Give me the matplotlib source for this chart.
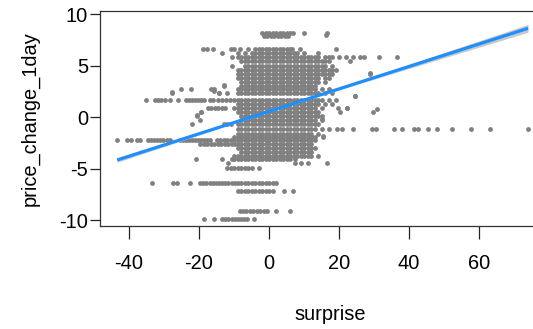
import matplotlib
matplotlib.use("Agg")
import matplotlib.pyplot as plt
import numpy as np

# ---------------- data ----------------
# scatter rows: (price_change_1day, [surprise values])
core_a = [-9, -8, -7, -6, -5, -4, -3, -2, -1, 0, 1, 2, 3, 4, 5, 6, 7, 8, 9, 10, 11, 12, 13]
rows = [
    (8.2, [-2, -1, 0, 1, 2, 3, 4, 5, 6, 6.9, 10, 16.6]),
    (7.9, [-1.5, -0.5, 0.5, 1.5, 2.5, 3.5, 4.5, 5.5]),
    (6.6, [-18.9, -17.8, -16, -10.8, -10, -8.3, -6, -4, -3, -2, -1, 0, 1, 2, 3, 4, 5, 6, 6.6, 8.9, 19]),
    (6.2, [-13.4, -9, -7, -5, -4, -3, -2, -1, 0, 1, 2, 3, 4, 5, 6, 7, 8, 10, 13.9]),
    (5.8, [-10.6, -9, -8, -7, -6, -5, -4, -3, -2, -1, 0, 1, 2, 3, 4, 5, 6, 7, 8, 9, 10, 11, 12, 13, 14,
           16, 17, 18, 20, 22, 24, 26, 27, 31.4, 36.6]),
    (5.4, [-8, -7, -6, -5, -4, -3, -2, -1, 0, 1, 2, 3, 4, 5, 6, 7, 8, 9, 10, 11, 12, 13, 14, 15, 16, 17, 23]),
    (5.0, [-10.6, -7, -6, -5, -4, -3, -2, -1, 0, 1, 2, 3, 4, 5, 6, 7, 8, 9, 10, 11, 12, 13, 14, 15, 16, 18]),
    (4.6, [-9, -8, -7, -6, -5, -4, -3, -2, -1, 0, 1, 2, 3, 4, 5, 6, 7, 8, 9, 10, 11, 12, 13, 14, 15, 16, 17, 18, 19]),
    (4.2, [-9, -8, -7, -6, -5, -4, -3, -2, -1, 0, 1, 2, 3, 4, 5, 6, 7, 8, 9, 10, 11, 12, 13, 14, 15, 16, 17, 18, 28.9]),
    (3.8, [-9, -8, -7, -6, -5, -4, -3, -2, -1, 0, 1, 2, 3, 4, 5, 6, 7, 8, 9, 10, 11, 12, 13, 14, 16, 17]),
    (3.4, [-8, -7, -6, -5, -4, -3, -2, -1, 0, 1, 2, 3, 4, 5, 6, 7, 8, 9, 10, 11, 12, 13, 14, 16]),
    (3.0, [-12.9, -8, -7, -6, -5, -4, -3, -2, -1, 0, 1, 2, 3, 4, 5, 6, 7, 8, 9, 10, 11, 12, 13]),
    (2.7, [-25.1, -22.3, -16.6, -15.7] + core_a + [15, 17]),
    (2.3, [-27.7, -14.3, -12] + core_a + [14, 16, 18]),
    (2.0, [24.6]),
    (1.7, [-35.1, -32.6, -31.7, -30.8, -29.7, -28.3, -26, -23.7, -22.9, -22, -21.1, -20.3, -19.4, -18.6,
           -16.9, -16, -14.6, -13.4, -12.3, -11.2, -10] + core_a + [14, 15, 17, 19]),
    (1.3, core_a + [14, 16, 18]),
    (0.9, [-17.4, -16.5, -15.5, -14.5, -13.5, -12.6, -10] + core_a + [15, 19.7, 22.3]),
    (0.5, [-19.4] + core_a + [14, 20.3, 29.7]),
    (0.1, [-20.6, -8, -7, -6, -5, -4, -3, -2, -1, 0, 1, 2, 3, 4, 5, 6, 7, 8, 9, 10, 11, 12, 13, 14, 15]),
    (-0.3, [-19.7, -8, -7, -6, -5, -4, -3, -2, -1, 0, 1, 2, 3, 4, 5, 6, 7, 8, 9, 10, 11, 12, 13, 15]),
    (-0.7, [-22, -13, -12, -11] + core_a + [14]),
    (-1.2, core_a + [15, 17, 19.4, 20.9, 24, 29.4, 30.6, 35.7, 38, 41.4, 42.6, 45.4, 48, 52.3, 57.7, 63.1, 74]),
    (-1.6, [-9, -8, -7, -6, -5, -4, -3, -2, -1, 0, 1, 2, 3, 4, 5, 6, 7, 8, 9, 10, 11, 12, 14]),
    (-1.9, [-10] + core_a + [15.4]),
    (-2.2, [-43.4, -40.6, -39.4, -37.7, -36.9, -34.6, -33.7, -32.9, -32, -31.1, -30.3, -29.1, -28.3,
            -25.4, -24.6, -23.7, -22.9, -22, -21.1, -20.3, -19.4, -18.6, -17.7, -16.9, -15, -14, -13,
            -12, -11, -10] + core_a),
    (-2.6, [-19.7, -18.7, -17.7, -16.7, -15.7, -14.7, -13.7, -12.7, -11.7, -10.7, -9.8, -9, -8, -7, -6,
            -5, -4, -3, -2, -1, 0, 1, 2, 3, 4, 5, 6, 7, 8, 9, 10, 11, 12]),
    (-3.0, core_a),
    (-3.4, [-8, -7, -6, -5, -4, -3, -2, -1, 0, 1, 2, 3, 4, 5, 6, 7, 8, 9, 10, 11, 12]),
    (-3.8, [-10] + core_a[:-1] + [14]),
    (-4.1, [-21, -13.4, -10.6, -10, -9, -8, -7, -6, -5, -4, -3, -2, -1, 0, 1, 2, 3, 4, 5, 6, 7.4]),
    (-4.5, [-11.7, 7.4, 9, 11, 16.6]),
    (-4.9, [-12, -11, -10, -9, -8, -7, -6, -5, -3]),
    (-6.4, [-33.4, -27.4, -26.3, -22.6, -19.7, -18.8, -17.9, -17, -16.1, -15.2, -14.3, -13.4, -12.5,
            -11.6, -10.7, -9.8, -8.9, -8, -7, -6, -5, -4, -3, -2, -1, 0, 1, 2]),
    (-7.2, [-9, -8, -7, -6, -5, -4, -3, -2, -1, 0, 1, 4.3, 6.9]),
    (-9.1, [-8.3, -7.5, -6.5, -5.5, -4.5, -3.5, -2.5, -1.5, -0.5, 2, 6]),
    (-9.9, [-18.6, -15.7, -13.4, -12.5, -11.6, -10.7, -9.8, -8.9, -8, -7.1, -6.3, -4.3]),
]
extra_x = [-27.7, -15.7, -14.3, -12.9, -20.6, -19.4, 22.3, 28.9, 30.9, 24.6, 15.4, 15, 16.3]
extra_y = [2.4, 2.5, 2.3, 3.1, 0.2, 0.5, 0.9, 4.3, 0.8, 2.0, -1.8, -0.2, 8.0]

# fitted line and confidence band
fit_x = [-43.4, 74]
fit_y = [-4.17, 8.62]
ci_x = [-43.4, -20, 0, 20, 40, 60, 74]
ci_half = [0.22, 0.11, 0.05, 0.1, 0.2, 0.31, 0.38]

x_ticks = [-40, -20, 0, 20, 40, 60]
y_ticks = [-10, -5, 0, 5, 10]

surprise = np.concatenate([np.array(xs, float) for _, xs in rows] + [np.array(extra_x)])
price = np.concatenate([np.full(len(xs), y) for y, xs in rows] + [np.array(extra_y)])

# ---------------- figure ----------------
W, H = 533, 329
fig = plt.figure(figsize=(W / 100, H / 100), dpi=100)
ax = fig.add_axes([100 / W, (H - 226) / H, 460 / W, 215 / H])

ax.scatter(surprise, price, s=12, color="#808080", linewidths=0, zorder=2)

fx = np.array(fit_x)
fy = np.array(fit_y)
cx = np.array(ci_x)
cy = np.interp(cx, fx, fy)
ch = np.array(ci_half)
ax.fill_between(cx, cy - ch, cy + ch, color="#c8c8c8", linewidth=0, zorder=3)
ax.plot(fx, fy, color="#1f8fff", lw=2.3, zorder=4, solid_capstyle="butt")

ax.set_xlim(-48.3, -48.3 + 460 / 3.5)
ax.set_ylim(-10.58, 10.3)

fam = ["Liberation Sans", "DejaVu Sans"]
ax.set_xticks(x_ticks)
ax.set_yticks(y_ticks)
ax.set_xticklabels([str(t) for t in x_ticks], family=fam, fontsize=14.4)
ax.set_yticklabels([str(t) for t in y_ticks], family=fam, fontsize=14.4)
ax.tick_params(axis="x", length=9.5, width=0.9, pad=11, color="#222222")
ax.tick_params(axis="y", length=7.2, width=0.9, pad=1.5, color="#222222")

for s in ["left", "bottom", "top", "right"]:
    ax.spines[s].set_linewidth(0.9)
    ax.spines[s].set_color("#333333")

ax.set_xlabel("surprise", family=fam, fontsize=14.4, labelpad=23)
ax.set_ylabel("price_change_1day", family=fam, fontsize=14.4, labelpad=14)

fig.savefig("out.png", dpi=100)
